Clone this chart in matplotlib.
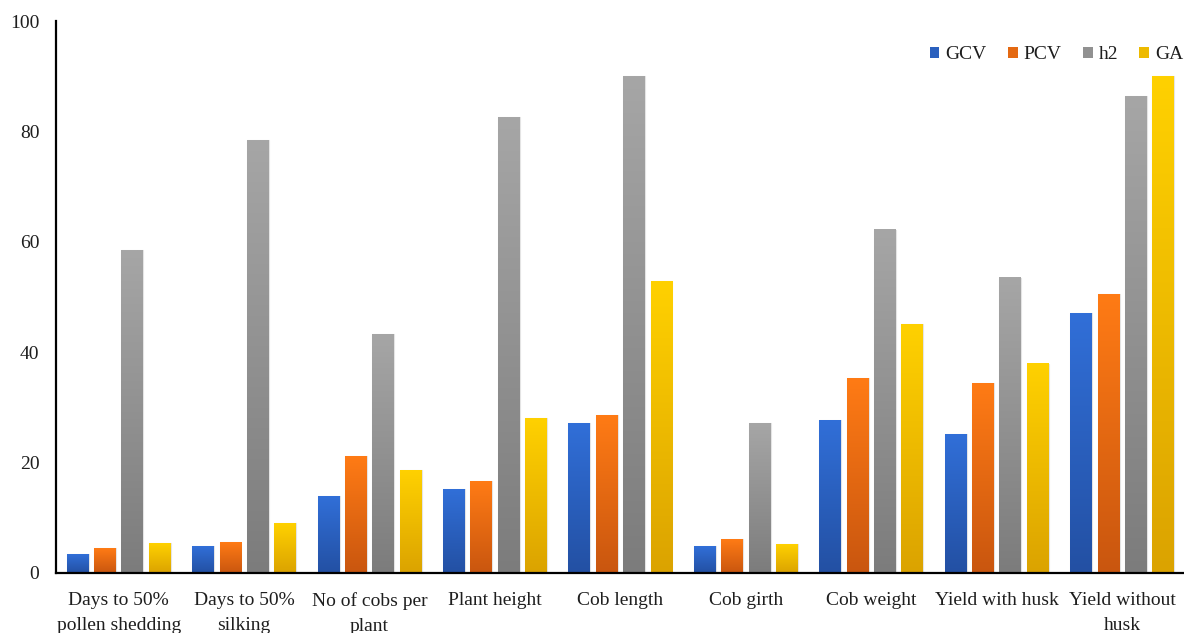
import numpy as np
import matplotlib
matplotlib.use("Agg")
import matplotlib.pyplot as plt
from matplotlib.colors import LinearSegmentedColormap
from matplotlib.patches import Patch

TRAITS = ["Days to 50%\npollen shedding", "Days to 50%\nsilking", "No of cobs per\nplant",
          "Plant height", "Cob length", "Cob girth", "Cob weight",
          "Yield with husk", "Yield without\nhusk"]
GCV = [3.4, 4.8, 13.9, 15.2, 27.1, 4.8, 27.7, 25.1, 47.0]
PCV = [4.5, 5.6, 21.2, 16.6, 28.5, 6.1, 35.2, 34.4, 50.5]
H2 = [58.5, 78.4, 43.2, 82.6, 90.0, 27.1, 62.2, 53.5, 86.4]
GA = [5.3, 9.0, 18.6, 28.0, 52.9, 5.2, 45.1, 37.9, 90.0]

SERIES = [("GCV", GCV), ("PCV", PCV), ("h2", H2), ("GA", GA)]
# (top, bottom) of each bar's vertical gradient
SHADES = {"GCV": ("#316fd8", "#2350a3"),
          "PCV": ("#ff7b15", "#c9560f"),
          "h2": ("#a6a6a6", "#7c7c7c"),
          "GA": ("#ffd100", "#dba300")}

plt.rcParams["font.family"] = ["Liberation Serif", "DejaVu Serif"]
INK = "#1e1e1e"

fig = plt.figure(figsize=(11.84, 6.33), dpi=100)
ax = fig.add_axes([0.0473, 0.0953, 0.9535, 0.8715])

x = np.arange(len(TRAITS))
pitch, width = 0.218, 0.175
handles = []
for i, (name, vals) in enumerate(SERIES):
    top, bot = SHADES[name]
    cmap = LinearSegmentedColormap.from_list(name, [bot, top])
    bars = ax.bar(x + (i - 1.5) * pitch, vals, width, color=top,
                  edgecolor="#e4e4e4", linewidth=0.8, zorder=2)
    grad = np.linspace(0, 1, 256).reshape(-1, 1)
    for b in bars:
        x0, w, h = b.get_x(), b.get_width(), b.get_height()
        ax.imshow(grad, cmap=cmap, origin="lower", aspect="auto",
                  extent=[x0, x0 + w, 0, h], zorder=3)
    handles.append(Patch(facecolor=cmap(0.5), edgecolor="none", label=name))

ax.set_xlim(-0.5, len(TRAITS) - 0.5)
ax.set_ylim(0, 100)
ax.set_yticks(np.arange(0, 101, 20))
ax.set_xticks(x)
ax.set_xticklabels(TRAITS, fontsize=14, color=INK, linespacing=1.6)
ax.tick_params(axis="y", length=0, pad=12, labelsize=14, labelcolor=INK)
ax.tick_params(axis="x", length=0, pad=14)
for s in ("top", "right"):
    ax.spines[s].set_visible(False)
for s in ("left", "bottom"):
    ax.spines[s].set_linewidth(1.6)
    ax.spines[s].set_color("black")
    ax.spines[s].set_zorder(4)

ax.legend(handles=handles, loc="upper right", bbox_to_anchor=(1.014, 0.986), ncol=4,
          frameon=False, fontsize=14, handlelength=0.5, handleheight=0.5,
          handletextpad=0.3, columnspacing=1.1, labelcolor=INK)

fig.savefig("out.png", dpi=100)
